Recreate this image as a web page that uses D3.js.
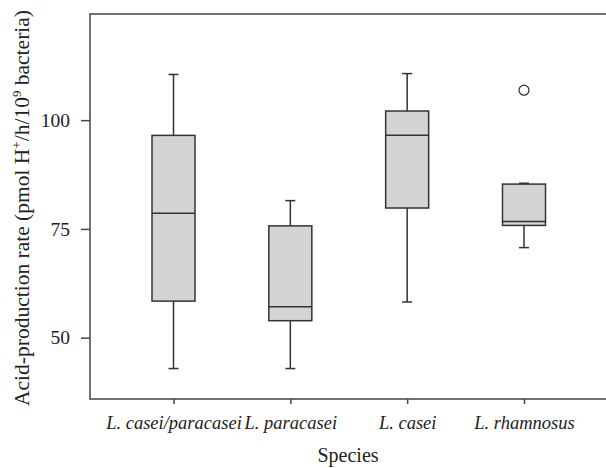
<!DOCTYPE html>
<html>
<head>
<meta charset="utf-8">
<script src="https://cdn.jsdelivr.net/npm/d3@7"></script>
<style>
  body { margin: 0; background: #fff; }
  text { font-family: "Liberation Serif", "DejaVu Serif", serif; fill: #222; }
</style>
</head>
<body>
<svg id="chart" width="606" height="468"></svg>
<script>
// values
var species = ["L. casei/paracasei", "L. paracasei", "L. casei", "L. rhamnosus"];
var whiskerLow  = [42.9, 42.9, 58.2, 70.7];
var q1          = [58.4, 53.9, 79.8, 75.8];
var median      = [78.6, 57.1, 96.5, 76.7];
var q3          = [96.5, 75.7, 102.1, 85.3];
var whiskerHigh = [110.5, 81.5, 110.7, 85.5];
var outliers    = [[], [], [], [106.9]];
var yTicks = [50, 75, 100];

var svg = d3.select("#chart");

// plot frame edges (note: "top" is taken by window.top)
var pLeft = 90, pTop = 14, pBottom = 399, pRight = 606;

var y = d3.scaleLinear().domain([35.9, 124.4]).range([pBottom, pTop]);
var x = d3.scalePoint().domain(species).range([173.5, 524]);

var boxW = 43, capW = 10;

// frame (top + left + bottom, right side runs off the image)
svg.append("path")
    .attr("d", "M" + pRight + "," + pTop + "H" + pLeft + "V" + pBottom + "H" + pRight)
    .attr("fill", "none")
    .attr("stroke", "#444")
    .attr("stroke-width", 1.5);

// y axis
var yAxis = svg.append("g")
    .attr("transform", "translate(" + pLeft + ",0)")
    .call(d3.axisLeft(y).tickValues(yTicks).tickSize(9).tickPadding(11));
yAxis.select(".domain").remove();
yAxis.selectAll("line").attr("stroke", "#444").attr("stroke-width", 1.5);
yAxis.selectAll("text").style("font-size", "19.5px").style("font-family", "Liberation Serif").attr("fill", "#222");

// x axis
var xAxis = svg.append("g")
    .attr("transform", "translate(0," + pBottom + ")")
    .call(d3.axisBottom(x).tickSize(5).tickPadding(12));
xAxis.select(".domain").remove();
xAxis.selectAll("line").attr("stroke", "#444").attr("stroke-width", 1.5);
xAxis.selectAll("text")
    .style("font-size", "18.5px")
    .style("font-style", "italic")
    .style("font-family", "Liberation Serif")
    .attr("fill", "#222");

// boxes
var groups = svg.selectAll(".box")
    .data(species)
    .enter().append("g")
    .attr("class", "box");

// whiskers
groups.append("line")
    .attr("x1", function(d) { return x(d); })
    .attr("x2", function(d) { return x(d); })
    .attr("y1", function(d, i) { return y(whiskerHigh[i]); })
    .attr("y2", function(d, i) { return y(q3[i]); });
groups.append("line")
    .attr("x1", function(d) { return x(d); })
    .attr("x2", function(d) { return x(d); })
    .attr("y1", function(d, i) { return y(q1[i]); })
    .attr("y2", function(d, i) { return y(whiskerLow[i]); });
// caps
groups.append("line")
    .attr("x1", function(d) { return x(d) - capW / 2; })
    .attr("x2", function(d) { return x(d) + capW / 2; })
    .attr("y1", function(d, i) { return y(whiskerHigh[i]); })
    .attr("y2", function(d, i) { return y(whiskerHigh[i]); });
groups.append("line")
    .attr("x1", function(d) { return x(d) - capW / 2; })
    .attr("x2", function(d) { return x(d) + capW / 2; })
    .attr("y1", function(d, i) { return y(whiskerLow[i]); })
    .attr("y2", function(d, i) { return y(whiskerLow[i]); });

groups.append("rect")
    .attr("x", function(d) { return x(d) - boxW / 2; })
    .attr("width", boxW)
    .attr("y", function(d, i) { return y(q3[i]); })
    .attr("height", function(d, i) { return y(q1[i]) - y(q3[i]); })
    .attr("fill", "#d3d4d6");

groups.append("line")
    .attr("x1", function(d) { return x(d) - boxW / 2; })
    .attr("x2", function(d) { return x(d) + boxW / 2; })
    .attr("y1", function(d, i) { return y(median[i]); })
    .attr("y2", function(d, i) { return y(median[i]); });

groups.selectAll("line").attr("stroke", "#333").attr("stroke-width", 1.5);
groups.selectAll("rect").attr("stroke", "#333").attr("stroke-width", 1.5);

// outliers
groups.each(function(d, i) {
    d3.select(this).selectAll(".out")
        .data(outliers[i])
        .enter().append("circle")
        .attr("class", "out")
        .attr("cx", x(d))
        .attr("cy", function(v) { return y(v); })
        .attr("r", 5)
        .attr("fill", "#fff")
        .attr("stroke", "#333")
        .attr("stroke-width", 1.3);
});

// axis titles
svg.append("text")
    .attr("x", 348)
    .attr("y", 462)
    .attr("text-anchor", "middle")
    .style("font-size", "20px")
    .text("Species");

var yt = svg.append("text")
    .attr("transform", "translate(29,208) rotate(-90)")
    .attr("text-anchor", "middle")
    .style("font-size", "21.5px");
yt.append("tspan").text("Acid-production rate (pmol H");
yt.append("tspan").attr("dy", -8).style("font-size", "13px").text("+");
yt.append("tspan").attr("dy", 8).text("/h/10");
yt.append("tspan").attr("dy", -8).style("font-size", "13px").text("9");
yt.append("tspan").attr("dy", 8).text(" bacteria)");
</script>
</body>
</html>
